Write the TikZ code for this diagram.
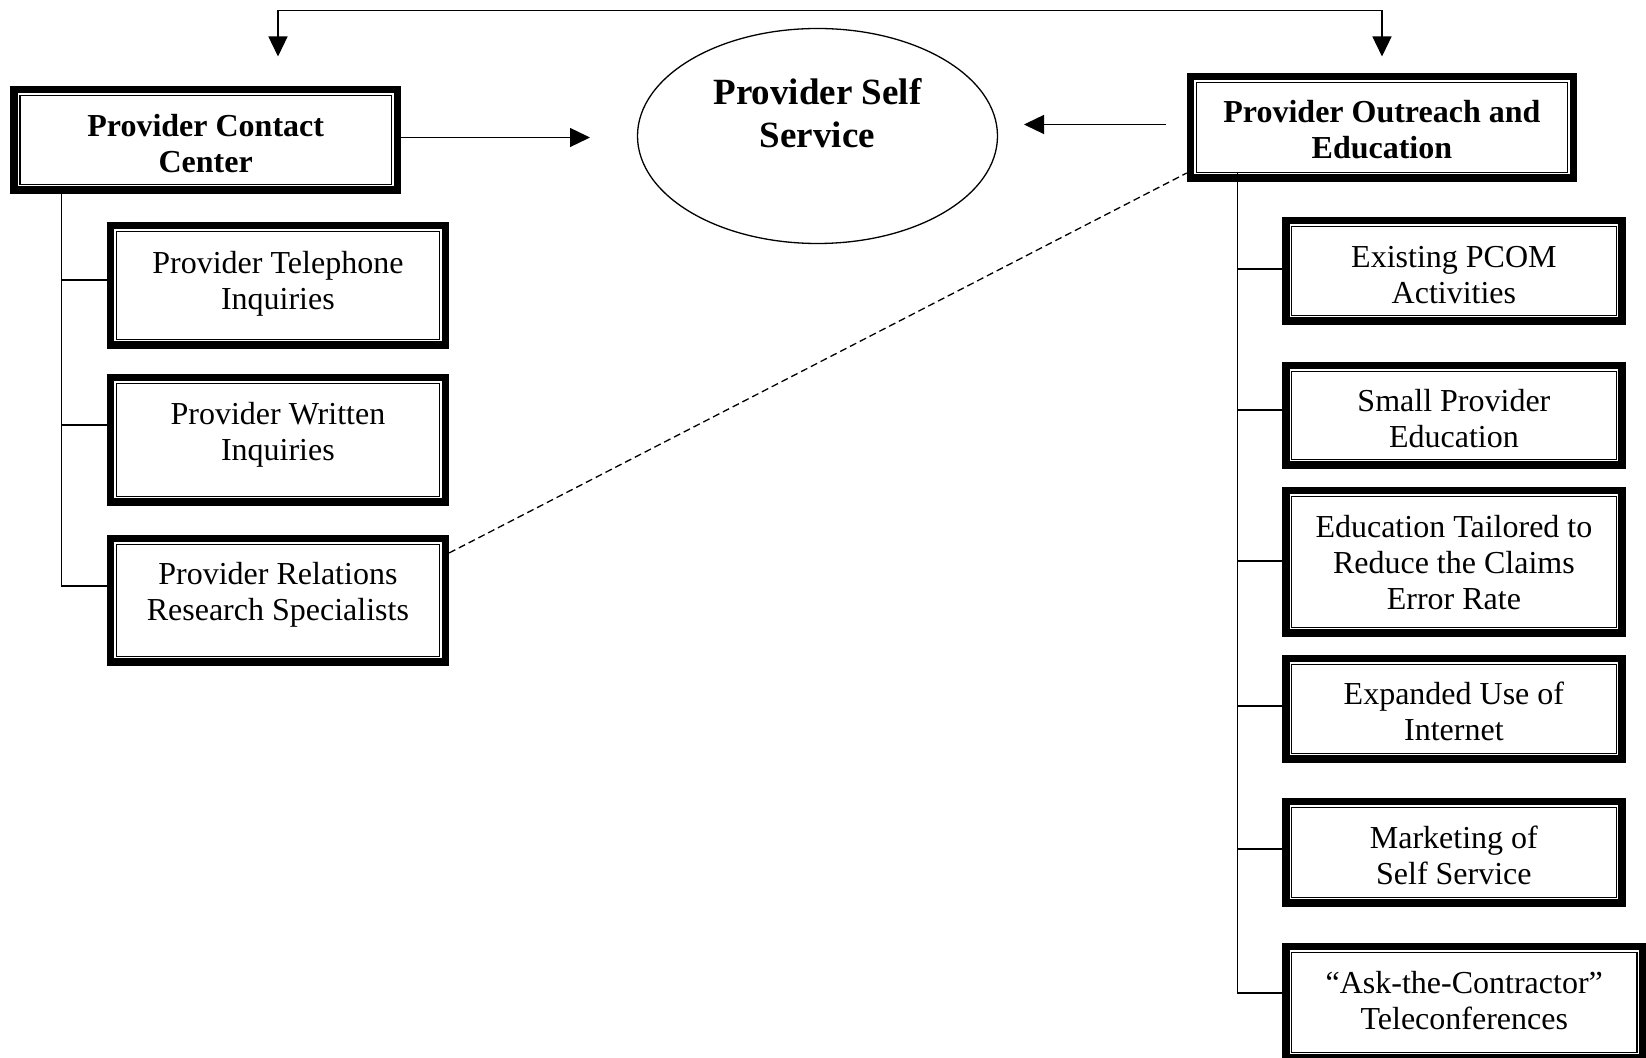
\documentclass[tikz,border=0pt]{standalone}
\usepackage{fontspec}
\setmainfont{Liberation Serif}
\usetikzlibrary{arrows.meta,shapes.geometric}
\tikzset{unitbox/.style = {draw,line width=3.75pt,inner sep=0pt,
  path picture={\draw[line width=0.6pt]
    ([shift={(2.9pt,2.9pt)}]path picture bounding box.south west) rectangle
    ([shift={(-2.9pt,-2.9pt)}]path picture bounding box.north east);}}}
\tikzset{unittext/.style = {align=center,inner sep=0pt,font=\fontsize{16}{18}\selectfont}}
\tikzset{headtext/.style = {unittext,font=\fontsize{16}{18}\selectfont\bfseries}}
\tikzset{connect/.style = {line width=0.65pt}}
\tikzset{pointer/.style = {-{Triangle[length=10pt,width=9.5pt]},line width=0.65pt}}
\tikzset{twoway/.style = {{Triangle[length=10pt,width=9.5pt]}-{Triangle[length=10pt,width=9.5pt]},line width=0.65pt}}

\begin{document}
\begin{tikzpicture}[x=0.5pt,y=-0.5pt]
\useasboundingbox (0,0) rectangle (1646,1058);
\clip (0,0) rectangle (1646,1058);

% main units
\node[unitbox,minimum width=191.6pt,minimum height=50.25pt,
  label={[headtext,yshift=-1.85pt]center:Provider Contact\\Center}] (pcc) at (205.7,140) {};
\node[unitbox,minimum width=191.4pt,minimum height=50.75pt,
  label={[headtext,yshift=-1.2pt]center:Provider Outreach and\\Education}] (poe) at (1381.9,127.5) {};
\node[ellipse,draw,line width=0.65pt,inner sep=0pt,minimum width=180pt,minimum height=107.5pt,
  label={[align=center,font=\fontsize{18.5}{21.5}\selectfont\bfseries,yshift=11.65pt]center:Provider Self\\Service}] (pss) at (817.5,136) {};

% contact center units
\node[unitbox,minimum width=167.4pt,minimum height=59.75pt,
  label={[unittext,yshift=0.9pt]center:Provider Telephone\\Inquiries}] (pti) at (277.9,285.5) {};
\node[unitbox,minimum width=167.4pt,minimum height=62.25pt,
  label={[unittext,yshift=2.65pt]center:Provider Written\\Inquiries}] (pwi) at (277.9,440) {};
\node[unitbox,minimum width=167.4pt,minimum height=61.75pt,
  label={[unittext,yshift=2.65pt]center:Provider Relations\\Research Specialists}] (prrs) at (277.9,600.5) {};

% outreach units
\node[unitbox,minimum width=168.1pt,minimum height=50.25pt,
  label={[unittext,yshift=-1.85pt]center:Existing PCOM\\Activities}] (epa) at (1453.9,271) {};
\node[unitbox,minimum width=168.1pt,minimum height=49.75pt,
  label={[unittext,yshift=-1.55pt]center:Small Provider\\Education}] (spe) at (1453.9,415.5) {};
\node[unitbox,minimum width=168.1pt,minimum height=71.25pt,
  label={[unittext,yshift=-0.1pt]center:Education Tailored to\\Reduce the Claims\\Error Rate}] (etr) at (1453.9,562) {};
\node[unitbox,minimum width=168.1pt,minimum height=50.25pt,
  label={[unittext,yshift=-1.3pt]center:Expanded Use of\\Internet}] (eui) at (1453.9,709) {};
\node[unitbox,minimum width=168.1pt,minimum height=50.75pt,
  label={[unittext,yshift=-1.45pt]center:Marketing of\\Self Service}] (mss) at (1453.9,852.5) {};
\node[unitbox,minimum width=178.5pt,minimum height=55.75pt,
  label={[unittext,yshift=1pt]center:``Ask-the-Contractor''\\Teleconferences}] (atc) at (1464.25,1002.5) {};

% arrows
\coordinate (pccin) at (278,56.5);
\coordinate (poein) at (1382,56.5);
\coordinate (roof) at (0,10.5);
\draw[twoway] (pccin) |- (roof -| poein) -- (poein);

\coordinate (pcctip) at (590,137.5);
\draw[pointer] (pcctip -| pcc.east) -- (pcctip);

\coordinate (poestart) at (1166,124.5);
\coordinate (psstip) at (1024,124.5);
\draw[pointer] (poestart) -- (psstip);

\draw[connect,dash pattern=on 3.5pt off 2pt]
  ([yshift=23.75pt]prrs.east) -- ([yshift=4.5pt]poe.south west);

% trunks
\coordinate (ltop) at ([shift={(25.7pt,4pt)}]pcc.south west);
\coordinate (rtop) at ([shift={(25.4pt,5pt)}]poe.south west);
\draw[connect] (ltop) |- ([yshift=7.25pt]prrs.west);
\foreach \n/\d in {pti/2.75pt,pwi/7.5pt}
  \draw[connect] ([yshift=\d]\n.west) -- ([yshift=\d]\n.west -| ltop);
\draw[connect] (rtop) |- ([yshift=4.75pt]atc.west);
\foreach \n/\d in {epa/1pt,spe/2.75pt,etr/0.5pt,eui/1.5pt,mss/1.75pt}
  \draw[connect] ([yshift=\d]\n.west) -- ([yshift=\d]\n.west -| rtop);

\end{tikzpicture}
\end{document}
